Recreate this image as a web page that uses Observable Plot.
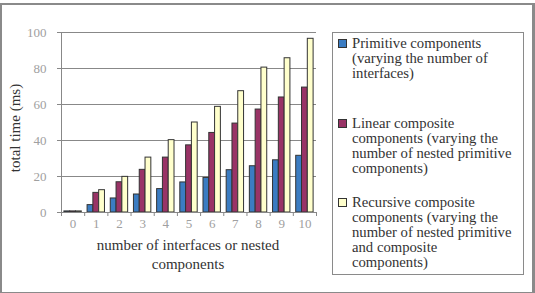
<!DOCTYPE html>
<html>
<head>
<meta charset="utf-8">
<script src="https://cdn.jsdelivr.net/npm/d3@7"></script>
<script src="https://cdn.jsdelivr.net/npm/@observablehq/plot@0.6"></script>
<style>
  html, body { margin: 0; padding: 0; background: #fff; }
  #wrap { position: relative; width: 535px; height: 293px; overflow: hidden; font-family: "Liberation Serif", "Tinos", "Times New Roman", "DejaVu Serif", serif; }
  #outer { position: absolute; left: 0px; top: 3px; width: 530px; height: 287px; border: 2px solid #8a8a8a; border-right-width: 3px; border-bottom-width: 3px; box-sizing: content-box; }
  #chart { position: absolute; left: 0; top: 0; }
  #xtitle { position: absolute; left: 88px; width: 200px; top: 236px; text-align: center; font-size: 15px; line-height: 19px; color: #333; }
  #ytitle { position: absolute; left: 15px; top: 128px; transform: translate(-50%, -50%) rotate(-90deg); white-space: nowrap; font-size: 15px; color: #333; }
  #legend { position: absolute; left: 332px; top: 32px; width: 190px; height: 241px; border: 1px solid #8a8a8a; font-size: 14.7px; line-height: 15px; color: #333; }
  .item { position: absolute; left: 19px; white-space: nowrap; }
  .sw { position: absolute; left: -14px; top: 3px; width: 7px; height: 7px; border: 1px solid #333; }
</style>
</head>
<body>
<div id="wrap">
  <div id="outer"></div>
  <div id="chart"></div>
  <div id="ytitle">total time (ms)</div>
  <div id="xtitle">number of interfaces or nested<br>components</div>
  <div id="legend"></div>
</div>
<script>
const categories = [0, 1, 2, 3, 4, 5, 6, 7, 8, 9, 10];
const seriesNames = ["Primitive", "Linear", "Recursive"];
const primitive = [0.6, 4.1, 7.8, 10.0, 13.0, 16.7, 19.2, 23.5, 25.7, 29.0, 31.5];
const linear    = [0.6, 10.9, 16.8, 23.7, 30.5, 37.3, 44.2, 49.4, 57.2, 63.9, 69.4];
const recursive = [0.6, 12.4, 19.8, 30.5, 40.2, 50.0, 58.7, 67.4, 80.5, 85.7, 96.5];
const colors = ["#3b7cc2", "#993366", "#ffffcc"];
const yTicks = [0, 20, 40, 60, 80, 100];
const legendLines = [
  ["Primitive components", "(varying the number of", "interfaces)"],
  ["Linear composite", "components (varying the", "number of nested primitive", "components)"],
  ["Recursive composite", "components (varying the", "number of nested primitive", "and composite", "components)"]
];

const seriesValues = [primitive, linear, recursive];
const groupWidth = 0.75;
const barW = groupWidth / seriesNames.length;
const table = [];
seriesValues.forEach((vals, k) => {
  vals.forEach((v, i) => {
    const x1 = categories[i] - groupWidth / 2 + k * barW;
    table.push({series: seriesNames[k], x1, x2: x1 + barW, y: v});
  });
});
const boundaries = [...categories.map(c => c - 0.5), categories[categories.length - 1] + 0.5];

const chart = Plot.plot({
  width: 330,
  height: 293,
  marginLeft: 61,
  marginRight: 14,
  marginTop: 32,
  marginBottom: 81,
  style: {fontFamily: "'Liberation Serif', 'Tinos', 'Times New Roman', 'DejaVu Serif', serif", background: "transparent"},
  x: {domain: [boundaries[0], boundaries[boundaries.length - 1]], axis: null},
  y: {domain: [0, 100], axis: null},
  color: {domain: seriesNames, range: colors},
  marks: [
    Plot.gridY(yTicks.filter(d => d > 0), {stroke: "#888", strokeOpacity: 1, strokeWidth: 1}),
    Plot.rectY(table, {x1: "x1", x2: "x2", y: "y", fill: "series", stroke: "#333", strokeWidth: 1}),
    Plot.ruleX([boundaries[0]], {y1: 0, y2: 100, stroke: "#888", strokeWidth: 1}),
    Plot.ruleY([0], {stroke: "#888", strokeWidth: 1}),
    Plot.axisY({ticks: yTicks, tickSize: 4, tickPadding: 11, label: null, fontSize: 13, color: "#a0a0a0", stroke: "#888"}),
    Plot.axisX({ticks: boundaries, tickSize: 4, tickFormat: () => "", label: null, stroke: "#888"}),
    Plot.axisX({ticks: categories, tickSize: 0, tickPadding: 6, label: null, fontSize: 13, color: "#a0a0a0"})
  ]
});
document.getElementById("chart").appendChild(chart);

const legend = document.getElementById("legend");
const tops = [3, 83, 162];
legendLines.forEach((lines, k) => {
  const d = document.createElement("div");
  d.className = "item";
  d.style.top = tops[k] + "px";
  const sw = document.createElement("div");
  sw.className = "sw";
  sw.style.background = colors[k];
  d.appendChild(sw);
  const t = document.createElement("div");
  t.innerHTML = lines.join("<br>");
  d.appendChild(t);
  legend.appendChild(d);
});
</script>
</body>
</html>
